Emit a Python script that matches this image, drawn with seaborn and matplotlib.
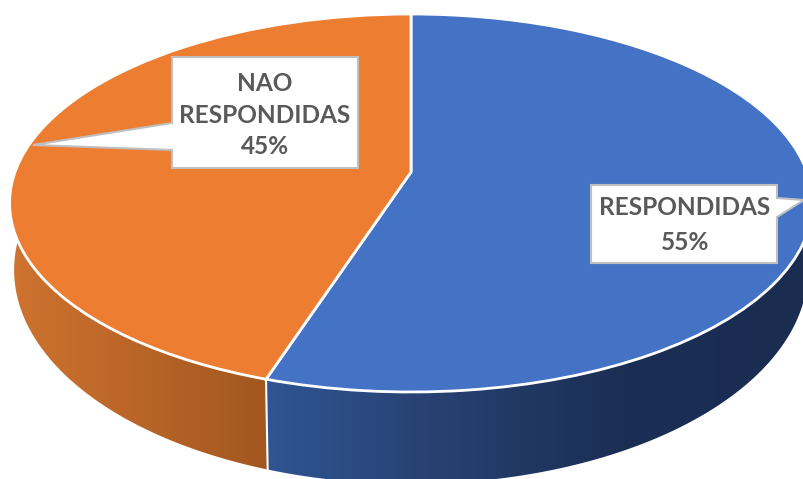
# -*- coding: utf-8 -*-
"""
3D look pie chart of answered and unanswered questions
"""

# import libraries
import numpy as np
import matplotlib
matplotlib.use("Agg")
import matplotlib.pyplot as plt
from matplotlib.patches import Polygon
from matplotlib.transforms import Transform
import seaborn as sns

# data
categories = ["RESPONDIDAS", "NAO\nRESPONDIDAS"]
shares = [55, 45]
face_colors = ["#4472C4", "#ED7D31"]
wall_colors = [["#305592", "#26406F", "#1B2E54", "#1A2C50"], ["#CF7330", "#A2571F"]]
wall_spans = [(266, 804), (10, 268)]
label_spots = [(685, 225), (265, 115)]
label_spacing = [1.63, 1.47]
boxes = [
    [(591, 185), (777, 185), (777, 198), (804, 200), (777, 217), (777, 263), (591, 263)],
    [(172, 57), (358, 57), (358, 168), (172, 168), (172, 150), (33, 145), (172, 123)],
]


# tilted disc seen in perspective, gives pixel positions
class Tilt(Transform):
    input_dims = 2
    output_dims = 2
    is_separable = False
    has_inverse = False

    def __init__(self, apex_y, squash, radius, tilt=0.164, apex_x=411):
        super().__init__()
        self.apex_x = apex_x
        self.apex_y = apex_y
        self.squash = squash
        self.radius = radius
        self.tilt = tilt

    def transform_non_affine(self, values):
        values = np.asarray(values)
        w = 1 + self.tilt * values[:, 1]
        px = self.apex_x + self.radius * values[:, 0] / w
        py = (self.apex_y - self.squash * values[:, 1]) / w
        return np.column_stack([px, py])


top = Tilt(172, 155.7, 396)
bottom = Tilt(234.9, 169.7, 391.5)


def arc(theta1, theta2):
    a = np.radians(np.linspace(theta1, theta2, 200))
    return np.column_stack([np.cos(a), np.sin(a)])


# set theme
sns.set_theme(style="white")

# create plot
fig = plt.figure(figsize=(8.04, 4.79), dpi=100)
ax = fig.add_axes([0, 0, 1, 1])

# pie top
wedges, _ = ax.pie(
    shares,
    colors=face_colors,
    startangle=90,
    counterclock=False,
    wedgeprops=dict(edgecolor="white", linewidth=2),
)
ax.set_aspect("auto")

for wedge, colors, span in zip(wedges, wall_colors, wall_spans):
    wedge.set_transform(top + ax.transData)
    wedge.set_zorder(3)

    # pie side, gradient clipped to the band between the two rims
    pts = arc(wedge.theta1, wedge.theta2)
    band = np.vstack([top.transform(pts), bottom.transform(pts)[::-1]])
    cmap = sns.blend_palette(colors, as_cmap=True)
    im = ax.imshow(
        np.linspace(0, 1, 256).reshape(1, -1),
        cmap=cmap,
        extent=(span[0], span[1], 500, 0),
        aspect="auto",
        zorder=1,
    )
    im.set_clip_path(Polygon(band, transform=ax.transData))

# white seam between the two side walls
seam = arc(wedges[0].theta1, wedges[0].theta1)[:1]
seam_top = top.transform(seam)[0]
seam_bottom = bottom.transform(seam)[0]
ax.plot(
    [seam_top[0], seam_bottom[0]],
    [seam_top[1], seam_bottom[1]],
    color="white",
    linewidth=1.5,
    zorder=2,
)

# callouts
for box, category, share, spot, spacing in zip(
    boxes, categories, shares, label_spots, label_spacing
):
    ax.add_patch(
        Polygon(box, facecolor="white", edgecolor="#BFBFBF", linewidth=1.5, zorder=4)
    )
    ax.text(
        spot[0],
        spot[1],
        f"{category}\n{share}%",
        ha="center",
        va="center",
        family="Lato",
        fontweight="bold",
        fontsize=17.6,
        color="#595959",
        linespacing=spacing,
        zorder=5,
    )

ax.set_xlim(0, 804)
ax.set_ylim(479, 0)
ax.axis("off")

plt.savefig("out.png", dpi=100)
